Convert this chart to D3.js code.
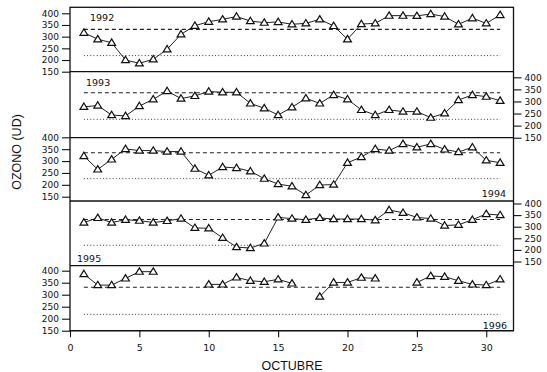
<!DOCTYPE html>
<html><head><meta charset="utf-8">
<script src="https://cdn.jsdelivr.net/npm/d3@7"></script>
<style>body{margin:0;background:#fff}</style>
</head><body>
<svg id="c" width="547" height="372" xmlns="http://www.w3.org/2000/svg"></svg>
<script>
// ---------------- data ----------------
const days = d3.range(1, 32);
const years = ["1992", "1993", "1994", "1995", "1996"];
const oz1992 = [317,289,274,200,186,203,246,310,347,364,374,386,367,360,363,353,357,374,346,289,354,357,390,390,389,397,386,353,379,357,393];
const oz1993 = [278,283,244,240,281,309,343,312,323,341,338,338,292,272,244,276,313,292,327,309,265,244,265,258,258,233,251,306,327,320,303];
const oz1994 = [321,265,307,351,344,344,340,340,268,240,275,271,257,226,203,194,157,199,201,293,317,351,344,372,358,372,349,338,358,303,293];
const oz1995 = [318,338,318,330,326,318,325,335,295,293,252,212,208,228,340,335,330,338,333,333,333,328,372,360,340,335,305,308,330,355,350];
const oz1996 = [386,340,340,368,396,396,null,null,null,343,343,372,358,354,364,347,null,292,351,351,371,368,null,null,351,378,375,358,343,340,364];
const series = [oz1992, oz1993, oz1994, oz1995, oz1996];
const dashedRef = [331, 336, 335, 331, 331];
const dottedRef = [219, 226, 226, 220, 218];
const yTicks = [150, 200, 250, 300, 350, 400];
const xTicks = [0, 5, 10, 15, 20, 25, 30];
const xLabel = "OCTUBRE";
const yLabel = "OZONO (UD)";

// ---------------- layout ----------------
const panels = [
  {top: 7.3,   bottom: 71.7,  y400: 13.3,  y150: 71.7,  side: "left",  lx: 90,  ly: 20.7,  anchor: "start"},
  {top: 71.7,  bottom: 137.7, y400: 77.3,  y150: 137.7, side: "right", lx: 86,  ly: 86,    anchor: "start"},
  {top: 137.7, bottom: 201,   y400: 137.3, y150: 196.7, side: "left",  lx: 506, ly: 196.7, anchor: "end"},
  {top: 201,   bottom: 265.7, y400: 203.5, y150: 261.5, side: "right", lx: 77,  ly: 261.7, anchor: "start"},
  {top: 265.7, bottom: 330.7, y400: 270.7, y150: 330.7, side: "left",  lx: 507, ly: 329,   anchor: "end"}
];
const L = 70, R = 513.5;

const svg = d3.select("#c");
const x = d3.scaleLinear().domain([0, 32]).range([70, 514]);
const ink = "#111";
const tickFont = "DejaVu Sans, sans-serif";

panels.forEach((p, i) => {
  const y = d3.scaleLinear().domain([150, 400]).range([p.y150, p.y400]);
  const g = svg.append("g");

  const axis = (p.side === "left" ? d3.axisLeft(y) : d3.axisRight(y))
    .tickValues(yTicks).tickSize(8).tickPadding(3).tickSizeOuter(0);
  const ax = g.append("g")
    .attr("transform", `translate(${p.side === "left" ? L : R},0)`)
    .call(axis);
  ax.select(".domain").remove();
  ax.selectAll("line").attr("stroke", ink).attr("stroke-width", 1.1);
  ax.selectAll("text").attr("font-family", tickFont).attr("font-size", 9)
    .attr("fill", ink);

  g.append("line")
    .attr("x1", x(1)).attr("x2", x(31))
    .attr("y1", y(dashedRef[i])).attr("y2", y(dashedRef[i]))
    .attr("stroke", "#222").attr("stroke-width", 1.2)
    .attr("stroke-dasharray", "4,3");
  g.append("line")
    .attr("x1", x(1)).attr("x2", x(31))
    .attr("y1", y(dottedRef[i])).attr("y2", y(dottedRef[i]))
    .attr("stroke", "#444").attr("stroke-width", 1)
    .attr("stroke-dasharray", "1,2.2");

  const pts = days.map((d, k) => ({d, v: series[i][k]}));
  const line = d3.line().defined(e => e.v != null)
    .x(e => x(e.d)).y(e => y(e.v));
  g.append("path").datum(pts).attr("d", line)
    .attr("fill", "none").attr("stroke", "#222").attr("stroke-width", 1);

  g.selectAll("path.tri").data(pts.filter(e => e.v != null)).join("path")
    .attr("class", "tri")
    .attr("d", e => {
      const cx = x(e.d), cy = y(e.v);
      return `M${cx},${cy - 3.8}L${cx + 3.9},${cy + 2.6}L${cx - 3.9},${cy + 2.6}Z`;
    })
    .attr("fill", "#fff").attr("stroke", "#111").attr("stroke-width", 1.2);

  g.append("text").attr("x", p.lx).attr("y", p.ly)
    .attr("text-anchor", p.anchor)
    .attr("font-family", tickFont).attr("font-size", 9.5)
    .attr("fill", ink).text(years[i]);

  g.append("line").attr("x1", L).attr("x2", R)
    .attr("y1", p.bottom).attr("y2", p.bottom)
    .attr("stroke", ink).attr("stroke-width", 1.3);
});

svg.append("rect").attr("x", L).attr("y", panels[0].top)
  .attr("width", R - L).attr("height", panels[4].bottom - panels[0].top)
  .attr("fill", "none").attr("stroke", ink).attr("stroke-width", 1.3);

const xa = svg.append("g").attr("transform", `translate(0,${panels[4].bottom})`)
  .call(d3.axisBottom(x).tickValues(xTicks).tickSize(6.5).tickPadding(7).tickSizeOuter(0));
xa.select(".domain").remove();
xa.selectAll("line").attr("stroke", ink).attr("stroke-width", 1.1);
xa.selectAll("text").attr("font-family", tickFont).attr("font-size", 9.5).attr("fill", ink);

svg.append("text").attr("x", 292).attr("y", 369.5).attr("text-anchor", "middle")
  .attr("font-family", "Liberation Sans, Arial, sans-serif").attr("font-size", 12.5)
  .attr("fill", ink).text(xLabel);
svg.append("text").attr("transform", "translate(21,152) rotate(-90)")
  .attr("text-anchor", "middle")
  .attr("font-family", "Liberation Sans, Arial, sans-serif").attr("font-size", 12.5)
  .attr("fill", ink).text(yLabel);
</script>
</body></html>
